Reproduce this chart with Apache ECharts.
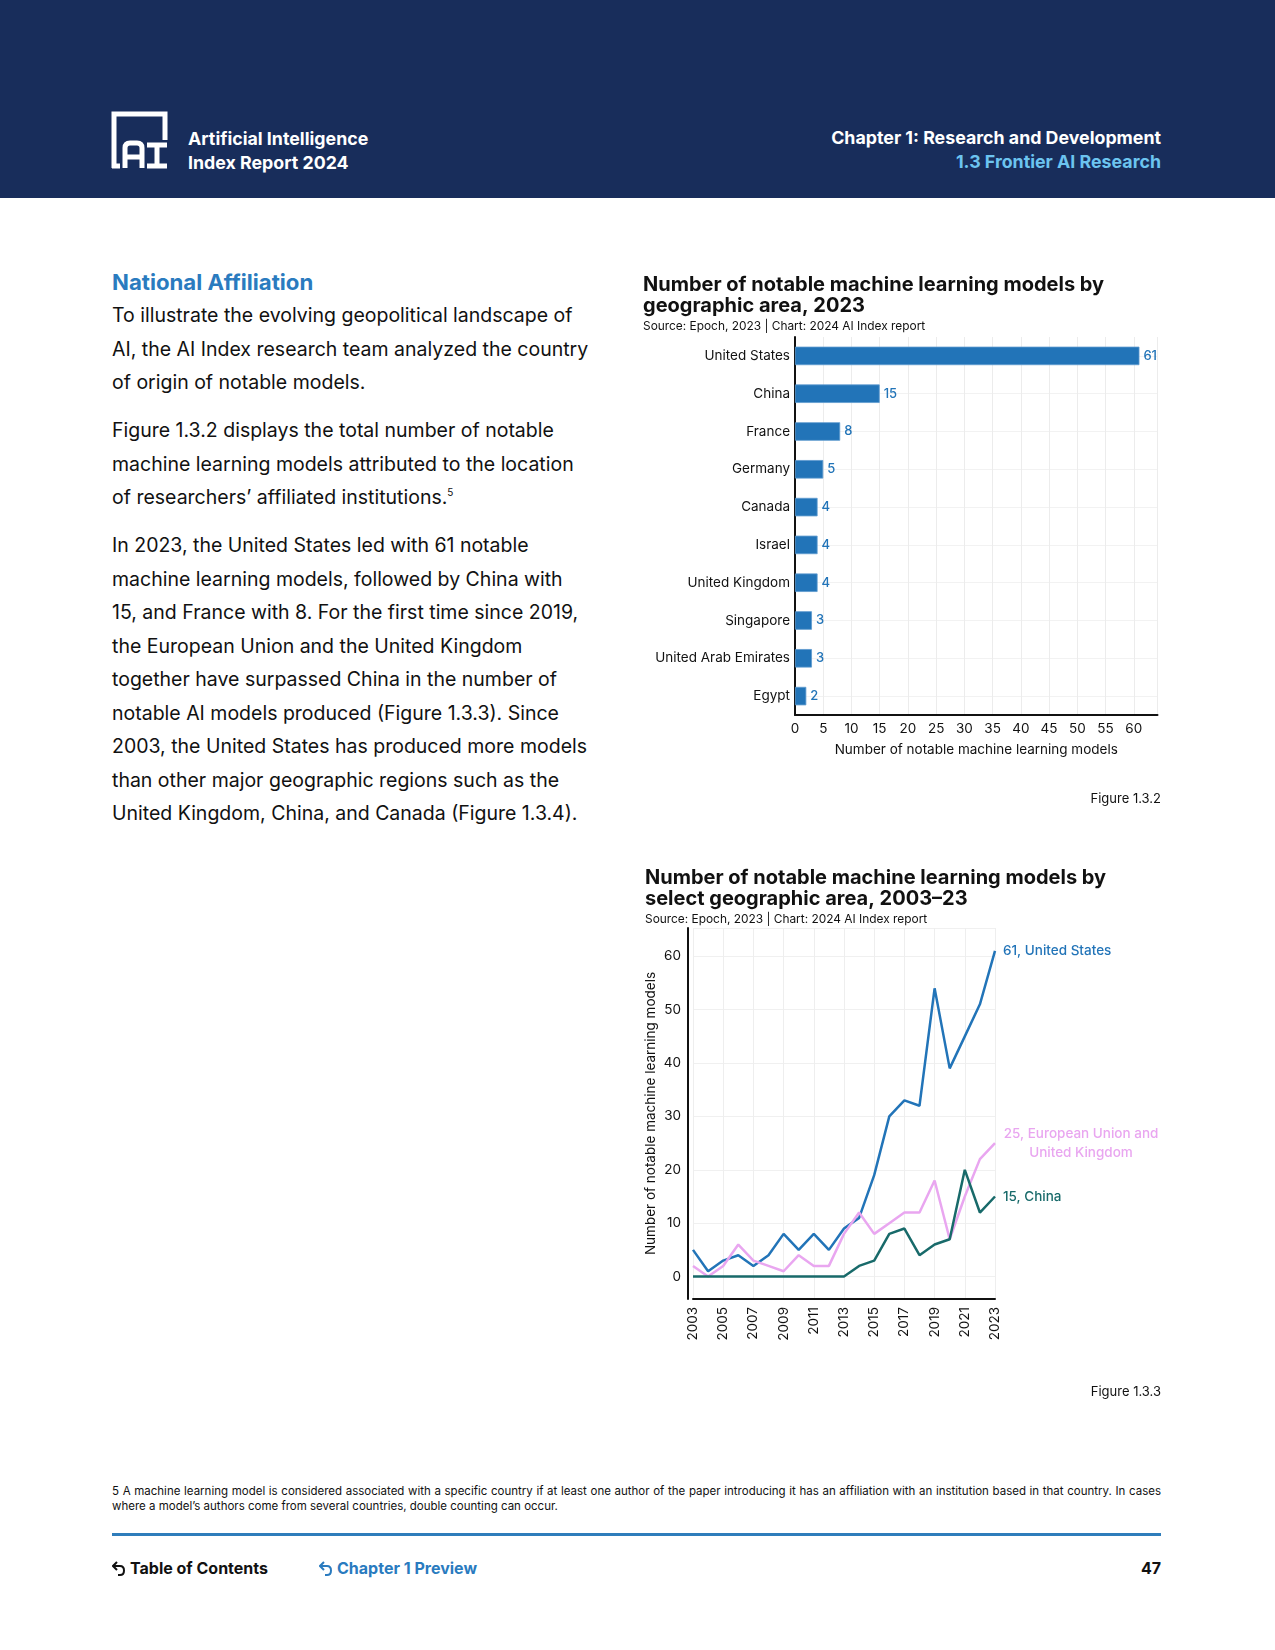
<!DOCTYPE html>
<html><head><meta charset="utf-8">
<script src="https://cdn.jsdelivr.net/npm/echarts@6/dist/echarts.min.js"></script>
<style>
html,body{margin:0;padding:0;background:#fff;}
#page{position:relative;width:1275px;height:1650px;overflow:hidden;font-family:Inter,'Noto Sans',sans-serif;color:#111;}
#header{position:absolute;left:0;top:0;width:1275px;height:198px;background:#182D5B;}
.ht{position:absolute;font-weight:700;font-size:17.8px;line-height:23.5px;color:#fff;white-space:nowrap;}
#h1{left:188px;top:127px;}
#h2{right:114px;top:126px;text-align:right;}
#h2 .sub{color:#6CC4F0;}
#logo{position:absolute;left:110px;top:110px;}
#secTitle{position:absolute;left:112px;top:268px;font-size:22.2px;font-weight:700;color:#2A7BBF;white-space:nowrap;}
#body{position:absolute;left:112px;top:299px;font-size:19.5px;line-height:33.5px;color:#111;white-space:nowrap;}
#body p{margin:0 0 14.5px 0;}
#body sup{font-size:10px;vertical-align:8px;line-height:0;}
#foot{position:absolute;left:112px;width:1049px;top:1484px;font-size:11.5px;line-height:14.5px;color:#111;}
#foot .l1{text-align:justify;text-align-last:justify;white-space:nowrap;}
#rule{position:absolute;left:112px;width:1049px;top:1533px;height:3px;background:#2F7DBB;}
.fl{position:absolute;top:1557px;font-size:16px;font-weight:700;line-height:22px;white-space:nowrap;}
#f1{left:112px;color:#111;}
#f2{left:319px;color:#2A7BBF;}
#f3{right:114px;color:#111;}
.fl svg{vertical-align:-3px;margin-right:4px;}
#chart{position:absolute;left:0;top:0;width:1275px;height:1650px;}
</style></head>
<body><div id="page">
<div id="header">
  <svg id="logo" width="60" height="60" viewBox="0 0 60 60">
    <path d="M4,58 V4 H55 V30" fill="none" stroke="#fff" stroke-width="5"/>
    <path d="M2,56 H10" stroke="#fff" stroke-width="5"/>
    <path d="M15,58 V38 Q15,33 20,33 H27 Q32,33 32,38 V58 M15,47 H32" fill="none" stroke="#fff" stroke-width="5"/>
    <path d="M37,35 H57 M47,35 V56 M37,56 H57" fill="none" stroke="#fff" stroke-width="5"/>
  </svg>
  <div id="h1" class="ht">Artificial Intelligence<br>Index Report 2024</div>
  <div id="h2" class="ht">Chapter 1: Research and Development<br><span class="sub">1.3 Frontier AI Research</span></div>
</div>
<div id="secTitle">National Affiliation</div>
<div id="body">
<p>To illustrate the evolving geopolitical landscape of<br>AI, the AI Index research team analyzed the country<br>of origin of notable models.</p>
<p>Figure 1.3.2 displays the total number of notable<br>machine learning models attributed to the location<br>of researchers’ affiliated institutions.<sup>5</sup></p>
<p>In 2023, the United States led with 61 notable<br>machine learning models, followed by China with<br>15, and France with 8. For the first time since 2019,<br>the European Union and the United Kingdom<br>together have surpassed China in the number of<br>notable AI models produced (Figure 1.3.3). Since<br>2003, the United States has produced more models<br>than other major geographic regions such as the<br>United Kingdom, China, and Canada (Figure 1.3.4).</p>
</div>
<div id="foot"><div class="l1">5 A machine learning model is considered associated with a specific country if at least one author of the paper introducing it has an affiliation with an institution based in that country. In cases</div><div>where a model’s authors come from several countries, double counting can occur.</div></div>
<div id="rule"></div>
<div id="f1" class="fl"><svg width="14" height="16" viewBox="0 0 14 16"><path d="M5,1 L1,5 L5,9 M1,5 H8 Q12,5 12,9.5 Q12,14 8,14 H6" fill="none" stroke="#111" stroke-width="2"/></svg>Table of Contents</div>
<div id="f2" class="fl"><svg width="14" height="16" viewBox="0 0 14 16"><path d="M5,1 L1,5 L5,9 M1,5 H8 Q12,5 12,9.5 Q12,14 8,14 H6" fill="none" stroke="#2A7BBF" stroke-width="2"/></svg>Chapter 1 Preview</div>
<div id="f3" class="fl">47</div>
<div id="chart"></div>
</div>
<script>
// ---- Figure 1.3.2 data ----
const countries = ['United States','China','France','Germany','Canada','Israel','United Kingdom','Singapore','United Arab Emirates','Egypt'];
const models2023 = [61,15,8,5,4,4,4,3,3,2];
// ---- Figure 1.3.3 data ----
const years = ['2003','2004','2005','2006','2007','2008','2009','2010','2011','2012','2013','2014','2015','2016','2017','2018','2019','2020','2021','2022','2023'];
const unitedStates = [5,1,3,4,2,4,8,5,8,5,9,11,19,30,33,32,54,39,45,51,61];
const euAndUk = [2,0,2,6,3,2,1,4,2,2,8,12,8,10,12,12,18,7,15,22,25];
const china = [0,0,0,0,0,0,0,0,0,0,0,2,3,8,9,4,6,7,20,12,15];

const FONT = 'Inter';
const BLUE = '#2274B8';
const PINK = '#E9A6F0';
const TEAL = '#186A6A';
const chart = echarts.init(document.getElementById('chart'), null, {renderer:'canvas'});
const axisTxt = {color:'#111', fontSize:13.5, fontFamily:FONT};
chart.setOption({
  animation:false,
  textStyle:{fontFamily:FONT},
  title:[
    {text:'Number of notable machine learning models by\ngeographic area, 2023', left:643, top:274,
     textStyle:{fontSize:20, fontWeight:700, lineHeight:21, color:'#111', fontFamily:FONT}, padding:0},
    {text:'Source: Epoch, 2023 | Chart: 2024 AI Index report', left:643, top:320,
     textStyle:{fontSize:11.9, fontWeight:400, color:'#111', fontFamily:FONT}, padding:0},
    {text:'Figure 1.3.2', right:114, top:793, textStyle:{fontSize:13, fontWeight:400, color:'#111', fontFamily:FONT}, padding:0},
    {text:'Number of notable machine learning models by\nselect geographic area, 2003–23', left:645, top:867,
     textStyle:{fontSize:20, fontWeight:700, lineHeight:21, color:'#111', fontFamily:FONT}, padding:0},
    {text:'Source: Epoch, 2023 | Chart: 2024 AI Index report', left:645, top:913,
     textStyle:{fontSize:11.9, fontWeight:400, color:'#111', fontFamily:FONT}, padding:0},
    {text:'Figure 1.3.3', right:114, top:1386, textStyle:{fontSize:13, fontWeight:400, color:'#111', fontFamily:FONT}, padding:0}
  ],
  grid:[
    {left:795, right:117.5, top:337, bottom:935},
    {left:693, right:280, top:928, bottom:351}
  ],
  xAxis:[
    {gridIndex:0, type:'value', min:0, max:64.2, interval:5,
     name:'Number of notable machine learning models', nameLocation:'middle', nameGap:28,
     nameTextStyle:axisTxt,
     axisLine:{show:true, lineStyle:{color:'#111', width:2}}, axisTick:{show:false},
     axisLabel:Object.assign({margin:7, showMaxLabel:false}, axisTxt),
     splitLine:{show:true, lineStyle:{color:'#ececec', width:1}}},
    {gridIndex:1, type:'category', data:years, boundaryGap:false,
     axisLine:{show:true, onZero:false, lineStyle:{color:'#111', width:2}}, axisTick:{show:false},
     axisLabel:Object.assign({rotate:90, interval:1, margin:8}, axisTxt),
     splitLine:{show:true, interval:1, lineStyle:{color:'#eeeeee', width:1}}}
  ],
  yAxis:[
    {gridIndex:0, type:'category', data:countries, inverse:true,
     axisLine:{show:true, lineStyle:{color:'#111', width:2}}, axisTick:{show:false},
     axisLabel:Object.assign({margin:5}, axisTxt),
     splitLine:{show:true, alignWithLabel:true, lineStyle:{color:'#f2f2f2', width:1}}},
    {gridIndex:1, type:'value', min:-4.2, max:65.3, minInterval:10, maxInterval:10, offset:5,
     name:'Number of notable machine learning models', nameLocation:'middle', nameGap:30, nameRotate:90,
     nameTextStyle:axisTxt,
     axisLine:{show:true, lineStyle:{color:'#111', width:2}}, axisTick:{show:false},
     axisLabel:Object.assign({margin:7, formatter:function(v){return (Math.abs(v%10)<1e-9)?String(v):'';}}, axisTxt),
     splitLine:{show:true, lineStyle:{color:'#f0f0f0', width:1}}}
  ],
  series:[
    {type:'bar', xAxisIndex:0, yAxisIndex:0, data:models2023, barWidth:18.5,
     itemStyle:{color:BLUE, borderColor:'#5E9ACF', borderWidth:0.8},
     label:{show:true, position:'right', distance:4, color:BLUE, fontSize:13, fontWeight:500, fontFamily:FONT}},
    {type:'line', name:'United States', xAxisIndex:1, yAxisIndex:1, data:unitedStates, symbol:'none',
     lineStyle:{color:BLUE, width:2.5}, itemStyle:{color:BLUE},
     endLabel:{show:true, distance:8, color:BLUE, fontSize:13.5, fontWeight:500, fontFamily:FONT,
       formatter:function(p){return p.value + ', ' + p.seriesName;}}},
    {type:'line', name:'European Union and United Kingdom', xAxisIndex:1, yAxisIndex:1, data:euAndUk, symbol:'none',
     lineStyle:{color:PINK, width:2.5}, itemStyle:{color:PINK},
     endLabel:{show:true, distance:8, color:PINK, fontSize:13.5, fontWeight:500, fontFamily:FONT, lineHeight:19,
       formatter:function(p){return '{c|' + p.value + ', European Union and}\n{c|United Kingdom}';},
       rich:{c:{width:156, align:'center', color:PINK, fontSize:13.5, fontWeight:500, fontFamily:FONT, lineHeight:19}}}},
    {type:'line', name:'China', xAxisIndex:1, yAxisIndex:1, data:china, symbol:'none',
     lineStyle:{color:TEAL, width:2.5}, itemStyle:{color:TEAL},
     endLabel:{show:true, distance:8, color:TEAL, fontSize:13.5, fontWeight:500, fontFamily:FONT,
       formatter:function(p){return p.value + ', ' + p.seriesName;}}}
  ]
});
</script>
</body></html>
